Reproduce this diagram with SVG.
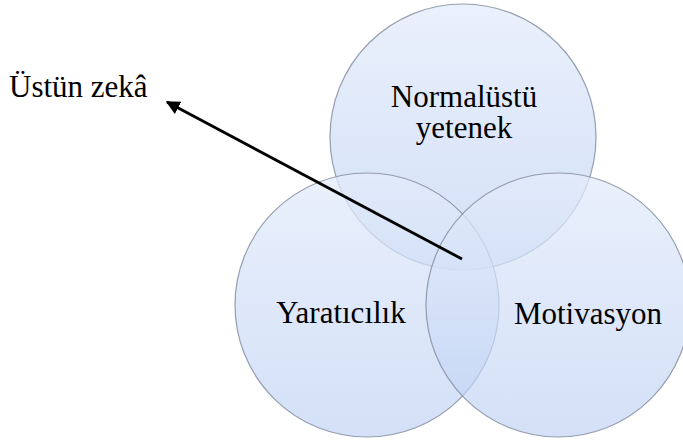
<svg xmlns="http://www.w3.org/2000/svg" width="683" height="441" viewBox="0 0 683 441">
<style>
.c{stroke:#7f8a9c;stroke-width:1.2;stroke-opacity:0.8}
.t{font-family:"Liberation Serif","Times New Roman",serif;font-size:31px;fill:#000}
</style>
<defs>
<linearGradient id="g" x1="0" y1="0" x2="0" y2="1">
<stop offset="0" stop-color="#e4ecfb" stop-opacity="0.75"/>
<stop offset="1" stop-color="#bcd0f3" stop-opacity="0.65"/>
</linearGradient>
<marker id="ah" viewBox="0 0 10 10" refX="9" refY="5" markerWidth="5" markerHeight="5" orient="auto-start-reverse" markerUnits="strokeWidth">
<path d="M0,0 L10,5 L0,10 z" fill="#000"/>
</marker>
</defs>
<rect width="683" height="441" fill="#fff"/>
<g id="normalustu">
<circle class="c" cx="463" cy="137" r="133" fill="url(#g)"/>
</g>
<g id="yaraticilik">
<circle class="c" cx="367" cy="305" r="132" fill="url(#g)"/>
</g>
<g id="motivasyon">
<circle class="c" cx="558" cy="305" r="132" fill="url(#g)"/>
</g>
<g id="labels">
<text class="t" x="464" y="107" text-anchor="middle">Normalüstü</text>
<text class="t" x="464" y="138" text-anchor="middle">yetenek</text>
<text class="t" x="341" y="323" text-anchor="middle">Yaratıcılık</text>
<text class="t" x="588" y="324" text-anchor="middle">Motivasyon</text>
</g>
<g id="ustun-zeka">
<text class="t" x="9" y="97">Üstün zekâ</text>
</g>
<g id="connectors">
<line x1="462" y1="259" x2="167" y2="102" stroke="#000" stroke-width="2.8" marker-end="url(#ah)"/>
</g>
</svg>
